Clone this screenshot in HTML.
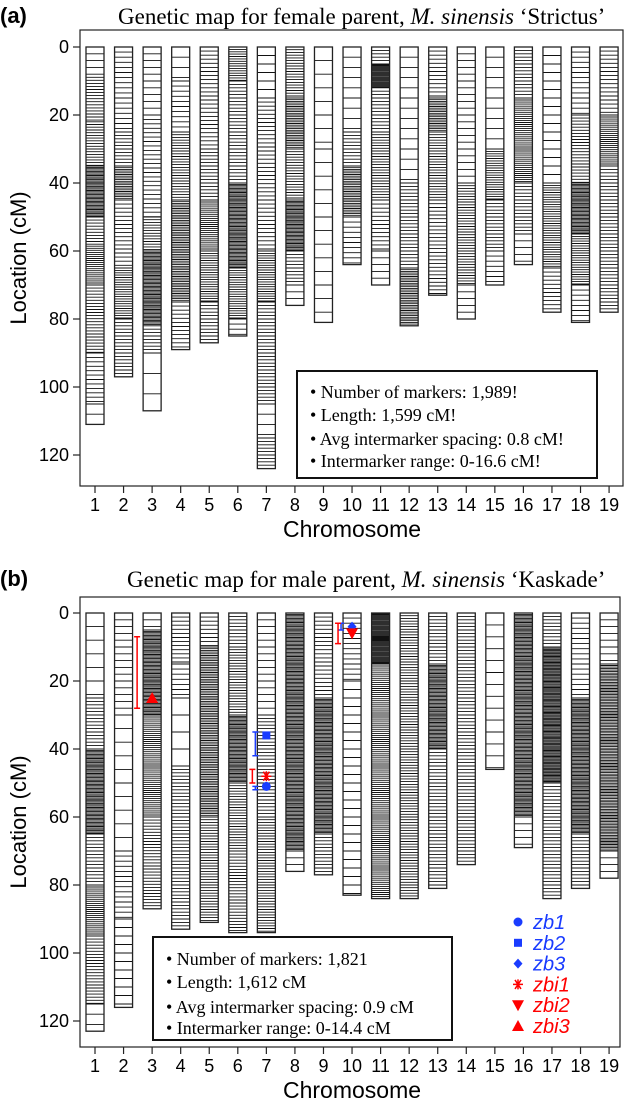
<!DOCTYPE html>
<html><head><meta charset="utf-8"><style>
body{margin:0;background:#fff;width:625px;height:1117px;overflow:hidden}
svg{display:block}
text{font-family:"Liberation Sans",sans-serif}
.serif{font-family:"Liberation Serif",serif}
</style></head><body>
<svg id="chart" width="625" height="1117" viewBox="0 0 625 1117">
<text x="0" y="23" font-size="22" font-weight="bold">(a)</text>
<text class="serif" x="118" y="24" font-size="23">Genetic map for female parent, <tspan font-style="italic">M. sinensis</tspan> ‘Strictus’</text>
<text x="0" y="586" font-size="22" font-weight="bold">(b)</text>
<text class="serif" x="127" y="587" font-size="23">Genetic map for male parent, <tspan font-style="italic">M. sinensis</tspan> ‘Kaskade’</text>
<g id="ga"></g><g id="gb"></g>
</svg>
<script>
const chromosomes=[1,2,3,4,5,6,7,8,9,10,11,12,13,14,15,16,17,18,19];
const yTicks=[0,20,40,60,80,100,120];
const lengthsA=[111,97,107,89,87,85,124,76,81,64,70,82,73,80,70,64,78,81,78];
const lengthsB=[123,116,87,93,91,94,94,76,77,83,84,84,81,74,46,69,84,81,78];
// marker density segments [startCM,endCM,spacingCM]
const markersA=[
[[0,8,2],[8,22,0.9],[22,35,0.8],[35,50,0.4],[50,58,0.9],[58,70,0.6],[70,90,0.9],[90,105,1.3],[105,111,3]],
[[0,25,1.5],[25,35,1],[35,45,0.5],[45,65,1.2],[65,80,0.7],[80,97,1]],
[[0,20,2],[20,50,1.3],[50,60,0.8],[60,82,0.4],[82,90,1],[90,107,6]],
[[0,10,3],[10,25,1.5],[25,45,0.8],[45,75,0.5],[75,89,1.2]],
[[0,30,1.2],[30,45,1],[45,60,0.6],[60,75,0.7],[75,87,1]],
[[0,10,0.7],[10,40,1],[40,65,0.4],[65,80,0.7],[80,85,1.5]],
[[0,15,2.5],[15,60,1.2],[60,75,0.7],[75,105,1],[105,115,3],[115,124,1]],
[[0,15,0.8],[15,30,0.5],[30,45,0.8],[45,60,0.4],[60,70,1],[70,76,2]],
[[0,30,4],[30,80,4]],
[[0,25,3],[25,35,1],[35,50,0.5],[50,64,1.5]],
[[0,5,1],[5,12,0.3],[12,25,1],[25,45,0.8],[45,60,1.2],[60,70,2]],
[[0,40,3],[40,65,1],[65,82,0.5]],
[[0,15,1.2],[15,25,0.5],[25,45,0.8],[45,73,1.1]],
[[0,40,2],[40,70,0.8],[70,80,2]],
[[0,30,3],[30,45,0.7],[45,60,1],[60,70,1.5]],
[[0,15,1],[15,40,0.6],[40,55,1],[55,64,2]],
[[0,40,2.5],[40,65,0.7],[65,78,1.2]],
[[0,20,1.5],[20,40,0.9],[40,55,0.4],[55,70,0.7],[70,81,1.5]],
[[0,20,1.2],[20,35,0.6],[35,78,1]]];
const markersB=[
[[0,25,4],[25,40,1],[40,65,0.4],[65,80,1],[80,95,0.6],[95,115,0.9],[115,123,3]],
[[0,30,2],[30,70,4],[70,90,1.5],[90,116,2.5]],
[[0,5,2],[5,30,0.4],[30,60,0.6],[60,87,0.9]],
[[0,15,1.2],[15,25,1.5],[25,45,5],[45,93,1]],
[[0,10,1.2],[10,60,0.5],[60,91,0.8]],
[[0,10,1],[10,30,0.8],[30,50,0.4],[50,70,0.8],[70,94,0.9]],
[[0,30,2],[30,60,1],[60,94,0.8]],
[[0,70,0.4],[70,76,2]],
[[0,25,1.2],[25,65,0.4],[65,77,1]],
[[0,20,1.5],[20,83,2.5]],
[[0,15,0.3],[15,84,0.6]],
[[0,84,0.8]],
[[0,15,1],[15,40,0.4],[40,81,1]],
[[0,74,1]],
[[0,46,3.5]],
[[0,60,0.4],[60,69,2]],
[[0,10,1],[10,50,0.35],[50,84,1]],
[[0,25,1.5],[25,65,0.4],[65,81,1]],
[[0,15,2],[15,70,0.45],[70,78,2]]];
// QTL annotations
const qtlChrom=[3,7,7,7,10,10];
const qtlPeak=[25,36,48,51,4,6];
const qtlLow=[7,35,46,51,3,3];
const qtlHigh=[28,42,50,52,5,9];
const qtlColor=["#f00","#1a3cff","#f00","#1a3cff","#1a3cff","#f00"];
const qtlShape=["tri","sq","ast","circ","dia","tridown"];
const legendLabels=["zb1","zb2","zb3","zbi1","zbi2","zbi3"];
const legendShapes=["circ","sq","dia","ast","tridown","tri"];
const legendColors=["#1a3cff","#1a3cff","#1a3cff","#f00","#f00","#f00"];

const NS="http://www.w3.org/2000/svg";
function mk(p,tag,at){const e=document.createElementNS(NS,tag);for(const k in at)e.setAttribute(k,at[k]);p.appendChild(e);return e;}
const xS=c=>95+(c-1)*28.56;

function panel(g,P){
  const yS=v=>P.y0+v*3.4;
  const fr=mk(g,'rect',{x:80,y:P.top,width:P.right-80,height:P.bot-P.top,fill:'none',stroke:'#222','stroke-width':1.2});
  
  
  yTicks.forEach(v=>{
    const t=mk(g,'line',{x1:73,x2:80,y1:yS(v),y2:yS(v),stroke:'#222','stroke-width':1.2});
    
    
    const l=mk(g,'text',{x:69,y:yS(v)+6,'font-size':18,'text-anchor':'end'});l.textContent=v;
    
    
  });
  chromosomes.forEach((c,i)=>{
    const x=xS(c);
    const t=mk(g,'line',{x1:x,x2:x,y1:P.bot,y2:P.bot+7,stroke:'#222','stroke-width':1.2});
    
    
    const l=mk(g,'text',{x:x,y:P.bot+25,'font-size':18,'text-anchor':'middle'});l.textContent=c;
    
    
    const cg=mk(g,'g',{});
    
    
    let d='';
    P.marks[i].forEach(s=>{for(let v=s[0];v<s[1];v+=s[2]){const y=yS(v).toFixed(1);d+=`M${x-9} ${y}H${x+9}`;}});
    mk(cg,'path',{d:d,stroke:'#111','stroke-width':0.9,fill:'none'});
    mk(cg,'rect',{x:x-9,y:yS(0),width:18,height:P.len[i]*3.4,fill:'none',stroke:'#222','stroke-width':1.3});
  });
  const yt=mk(g,'text',{x:0,y:0,'font-size':22,'text-anchor':'middle',transform:`translate(26,${(P.top+P.bot)/2}) rotate(-90)`});
  yt.textContent='Location (cM)';
  
  
  const xt=mk(g,'text',{x:352,y:P.bot+51,'font-size':23,'text-anchor':'middle'});
  xt.textContent='Chromosome';
  
  
  const bx=mk(g,'g',{});
  
  
  mk(bx,'rect',{x:P.box[0],y:P.box[1],width:P.box[2],height:P.box[3],fill:'#fff',stroke:'#111','stroke-width':2});
  P.lines.forEach((s,k)=>{const t=mk(bx,'text',{x:P.box[0]+13,y:P.ly[k],'font-size':18,class:'serif'});t.textContent='• '+s;});
  return yS;
}
const ga=document.getElementById('ga'),gb=document.getElementById('gb');
panel(ga,{top:30,bot:486,right:623,y0:47,len:lengthsA,marks:markersA,box:[297,371,300,107],
 ly:[398,421,445,467],lines:['Number of markers: 1,989!','Length: 1,599 cM!','Avg intermarker spacing: 0.8 cM!','Intermarker range: 0-16.6 cM!']});
const yB=panel(gb,{top:597,bot:1047,right:620,y0:613,len:lengthsB,marks:markersB,box:[153,937,299,103],
 ly:[965,988,1013,1034],lines:['Number of markers: 1,821','Length: 1,612 cM','Avg intermarker spacing: 0.9 cM','Intermarker range: 0-14.4 cM']});

function shape(p,s,x,y,col){
  if(s==='circ')mk(p,'circle',{cx:x,cy:y,r:4.5,fill:col});
  else if(s==='sq')mk(p,'rect',{x:x-4,y:y-4,width:8,height:8,fill:col});
  else if(s==='dia')mk(p,'path',{d:`M${x} ${y-5}L${x+4.5} ${y}L${x} ${y+5}L${x-4.5} ${y}Z`,fill:col});
  else if(s==='tri')mk(p,'path',{d:`M${x} ${y-6}L${x+6} ${y+5}L${x-6} ${y+5}Z`,fill:col});
  else if(s==='tridown')mk(p,'path',{d:`M${x} ${y+6}L${x+6} ${y-5}L${x-6} ${y-5}Z`,fill:col});
  else if(s==='ast')mk(p,'path',{d:`M${x-5} ${y}H${x+5}M${x-3} ${y-4.5}L${x+3} ${y+4.5}M${x+3} ${y-4.5}L${x-3} ${y+4.5}M${x} ${y-5}V${y+5}`,stroke:col,'stroke-width':1.5,fill:'none'});
}
qtlChrom.forEach((c,i)=>{
  const g=mk(gb,'g',{});
  
  
  const x=xS(c);const bx=x-11-(qtlColor[i]==='#f00'?3:0)-(c===3?1:0);
  const y1=yB(qtlLow[i]),y2=yB(qtlHigh[i]);
  mk(g,'path',{d:`M${bx} ${y1}V${y2}M${bx-3} ${y1}H${bx+3}M${bx-3} ${y2}H${bx+3}`,stroke:qtlColor[i],'stroke-width':1.5,fill:'none'});
  shape(g,qtlShape[i],x,yB(qtlPeak[i]),qtlColor[i]);
});
legendLabels.forEach((lab,i)=>{
  const g=mk(gb,'g',{});
  
  
  const y=922+i*20.8;
  shape(g,legendShapes[i],518,y,legendColors[i]);
  const t=mk(g,'text',{x:533,y:y+7,'font-size':20,'font-style':'italic',fill:legendColors[i]});t.textContent=lab;
});
</script>
</body></html>
